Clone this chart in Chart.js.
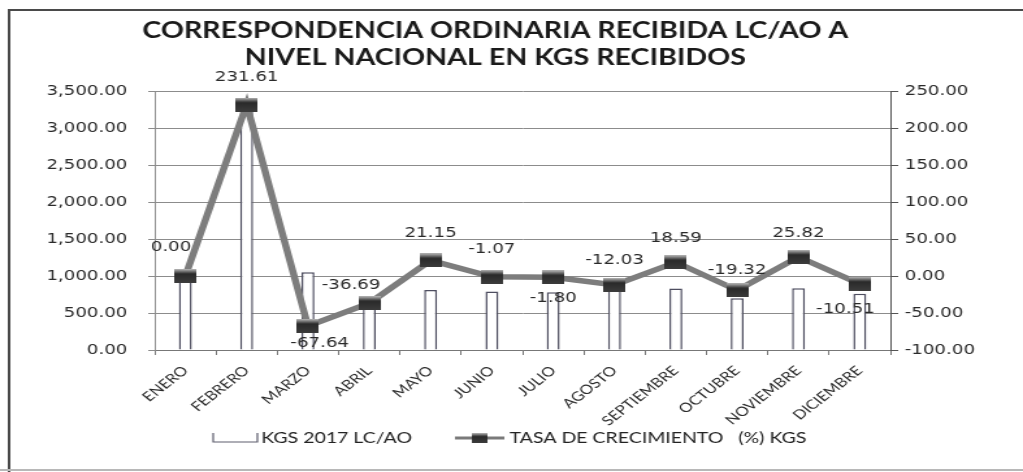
<!DOCTYPE html>
<html>
<head>
<meta charset="utf-8">
<script src="https://cdn.jsdelivr.net/npm/chart.js@4.4.1/dist/chart.umd.min.js"></script>
<style>
  html, body { margin: 0; background: #fff; }
  canvas { display: block; }
</style>
</head>
<body>
<!-- drawn narrower and stretched wide, like the scanned original -->
<canvas id="chart" width="787" height="472" style="width:1023px;height:472px"></canvas>
<script>
const TITLE_LINES = ['CORRESPONDENCIA ORDINARIA RECIBIDA LC/AO A', 'NIVEL NACIONAL EN KGS RECIBIDOS'];
const MONTHS = ['ENERO', 'FEBRERO', 'MARZO', 'ABRIL', 'MAYO', 'JUNIO', 'JULIO', 'AGOSTO', 'SEPTIEMBRE', 'OCTUBRE', 'NOVIEMBRE', 'DICIEMBRE'];
const KGS_2017 = [985, 3290, 1050, 670, 811, 790, 780, 805, 830, 700, 835, 760];
const GROWTH_PCT = [0.0, 231.61, -67.64, -36.69, 21.15, -1.07, -1.8, -12.03, 18.59, -19.32, 25.82, -10.51];
const BAR_LABEL = 'KGS 2017 LC/AO';
const LINE_LABEL = 'TASA DE CRECIMIENTO   (%) KGS';

// where each growth label sits relative to its marker (dx, dy)
const LABEL_OFFSETS = [[-11, -29], [0, -27], [9, 17], [-14, -18], [0, -27], [0, -27], [0, 21], [0, -25], [0, -24], [0, -20], [0, -24], [-11, 26]];

const fmt = (v) => v.toLocaleString('en-US', { minimumFractionDigits: 2, maximumFractionDigits: 2 });

// dark square marker with a light top edge, as in the Excel original
function makeMarker(w, h) {
  const c = document.createElement('canvas');
  c.width = w;
  c.height = h;
  const g = c.getContext('2d');
  const grad = g.createLinearGradient(0, 0, 0, h);
  grad.addColorStop(0, '#b8b8b8');
  grad.addColorStop(0.35, '#2a2a2a');
  grad.addColorStop(1, '#3c3c3c');
  g.fillStyle = grad;
  g.fillRect(0, 0, w, h);
  return c;
}
const MARKER = makeMarker(17, 14);

const decor = {
  id: 'decor',
  beforeDraw(chart) {
    const ctx = chart.ctx;
    ctx.save();
    ctx.fillStyle = '#fff';
    ctx.fillRect(0, 0, chart.width, chart.height);
    ctx.strokeStyle = '#4a4a4a';
    ctx.lineWidth = 2;
    ctx.beginPath();
    ctx.moveTo(7, chart.height);
    ctx.lineTo(7, 10);
    ctx.lineTo(chart.width, 10);
    ctx.stroke();
    ctx.strokeStyle = '#b8b8b8';
    ctx.beginPath();
    ctx.moveTo(0, 470);
    ctx.lineTo(chart.width, 470);
    ctx.stroke();

    ctx.fillStyle = '#1a1a1a';
    ctx.font = 'bold 22px Lato';
    ctx.textAlign = 'center';
    ctx.textBaseline = 'middle';
    TITLE_LINES.forEach((t, i) => ctx.fillText(t, 381, 31 + i * 27));
    ctx.restore();
  },
  afterDatasetsDraw(chart) {
    const ctx = chart.ctx;
    const pts = chart.getDatasetMeta(0).data;
    ctx.save();
    ctx.font = '14px "DejaVu Sans"';
    ctx.fillStyle = '#2a2a2a';
    ctx.textAlign = 'center';
    ctx.textBaseline = 'middle';
    pts.forEach((p, i) => {
      const [dx, dy] = LABEL_OFFSETS[i];
      ctx.fillText(fmt(GROWTH_PCT[i]), p.x + dx, p.y + dy);
    });
    ctx.restore();
  },
  afterDraw(chart) {
    const ctx = chart.ctx;
    const y = 438;
    ctx.save();
    // bar swatch: open box
    ctx.strokeStyle = '#5e5e6e';
    ctx.lineWidth = 1.2;
    ctx.beginPath();
    ctx.moveTo(164, y - 5);
    ctx.lineTo(164, y + 4);
    ctx.lineTo(198, y + 4);
    ctx.lineTo(198, y - 5);
    ctx.stroke();
    // line swatch with marker
    ctx.strokeStyle = '#7a7a7a';
    ctx.lineWidth = 3;
    ctx.beginPath();
    ctx.moveTo(350, y);
    ctx.lineTo(388, y);
    ctx.stroke();
    ctx.drawImage(MARKER, 369 - 6, y - 5, 12, 10);

    ctx.fillStyle = '#222';
    ctx.font = '15px Lato';
    ctx.textAlign = 'left';
    ctx.textBaseline = 'middle';
    ctx.fillText(BAR_LABEL, 201, y);
    ctx.fillText(LINE_LABEL, 392, y);
    ctx.restore();
  },
};

Chart.defaults.font.family = '"DejaVu Sans", sans-serif';
Chart.defaults.color = '#2a2a2a';

new Chart(document.getElementById('chart'), {
  data: {
    labels: MONTHS,
    datasets: [
      {
        type: 'line',
        label: LINE_LABEL,
        data: GROWTH_PCT,
        yAxisID: 'yRate',
        order: 0,
        borderColor: '#7d7d7d',
        borderWidth: 5.5,
        pointStyle: MARKER,
        pointRadius: 8,
        tension: 0,
      },
      {
        type: 'bar',
        label: BAR_LABEL,
        data: KGS_2017,
        yAxisID: 'yKgs',
        order: 1,
        backgroundColor: '#fff',
        borderColor: '#4e4e60',
        borderWidth: 1.5,
        barPercentage: 0.21,
        categoryPercentage: 1,
      },
    ],
  },
  options: {
    responsive: false,
    animation: false,
    layout: { padding: { top: 91, left: 0, right: 0, bottom: 0 } },
    plugins: { legend: { display: false }, tooltip: { enabled: false } },
    scales: {
      x: {
        offset: true,
        grid: { offset: true, drawOnChartArea: false, color: '#777', tickLength: 5 },
        border: { color: '#777' },
        ticks: { font: { family: 'Lato', size: 13 }, color: '#2a2a2a', minRotation: 45, maxRotation: 45, padding: 8, autoSkip: false },
        afterFit: (s) => { s.height = 122; },
      },
      yKgs: {
        position: 'left',
        min: 0,
        max: 3500,
        ticks: { stepSize: 500, font: { size: 14 }, padding: 16, callback: (v) => fmt(v) },
        grid: { color: '#8c8c8c', tickLength: 5 },
        border: { color: '#8c8c8c' },
        afterFit: (s) => { s.width = 119; },
      },
      yRate: {
        position: 'right',
        min: -100,
        max: 250,
        ticks: { stepSize: 50, font: { size: 14 }, padding: 5, callback: (v) => fmt(v) },
        grid: { drawOnChartArea: false, color: '#555', tickLength: 6 },
        border: { color: '#555' },
        afterFit: (s) => { s.width = 102; },
      },
    },
  },
  plugins: [decor],
});
</script>
</body>
</html>
